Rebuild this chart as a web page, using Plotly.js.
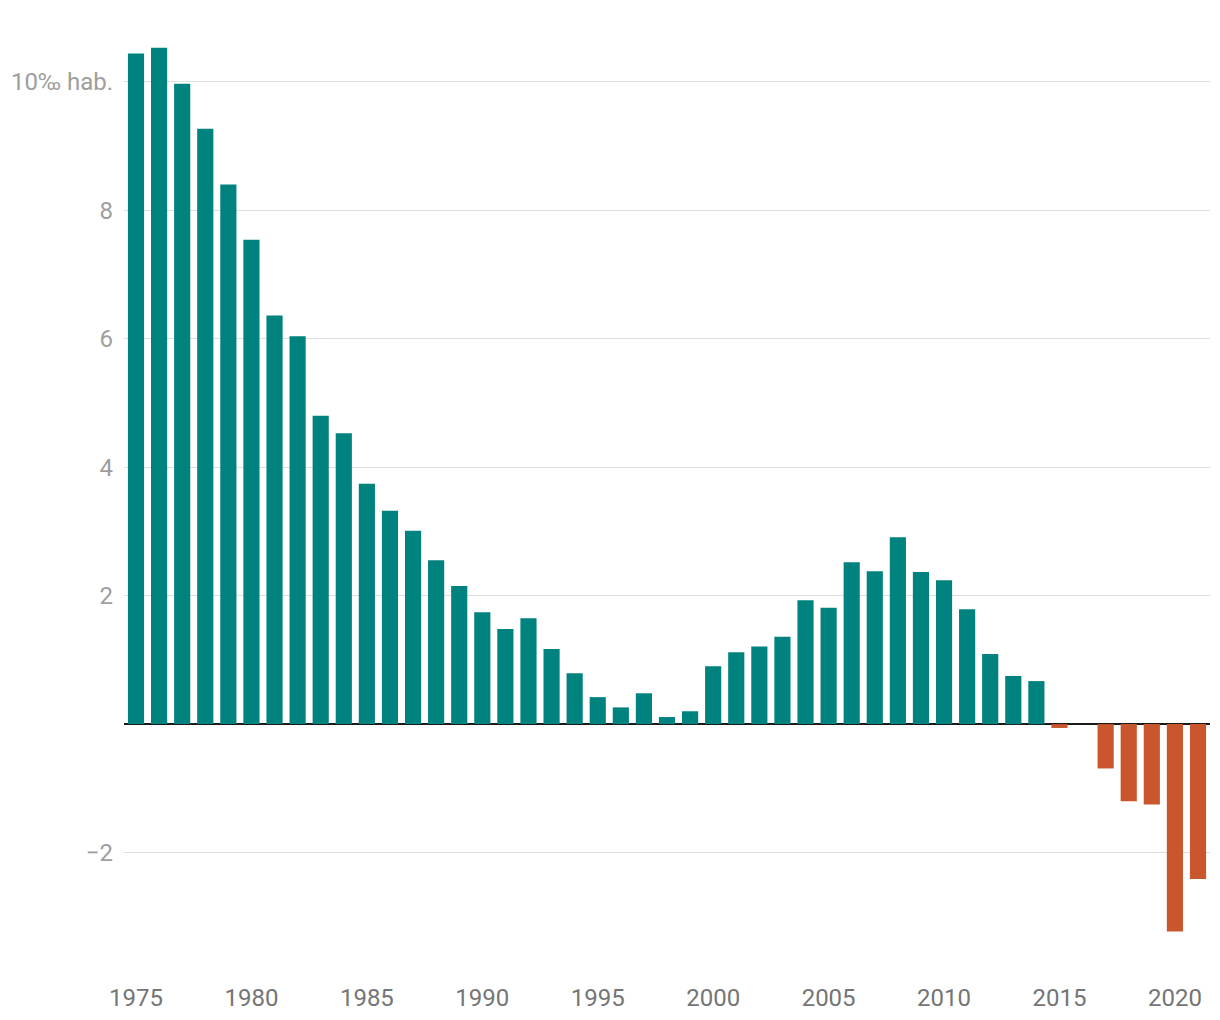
<!DOCTYPE html>
<html>
<head>
<meta charset="utf-8">
<script src="https://cdn.plot.ly/plotly-3.0.1.min.js"></script>
<style>html,body{margin:0;padding:0;background:#fff;}#chart{width:1220px;height:1020px;}</style>
</head>
<body>
<div id="chart"></div>
<script>
const years = [1975,1976,1977,1978,1979,1980,1981,1982,1983,1984,1985,1986,1987,1988,1989,1990,1991,1992,1993,1994,1995,1996,1997,1998,1999,2000,2001,2002,2003,2004,2005,2006,2007,2008,2009,2010,2011,2012,2013,2014,2015,2016,2017,2018,2019,2020,2021];
const values = [10.44,10.53,9.97,9.27,8.40,7.54,6.36,6.04,4.80,4.53,3.74,3.32,3.01,2.55,2.15,1.74,1.48,1.65,1.17,0.79,0.42,0.26,0.48,0.11,0.20,0.90,1.12,1.21,1.36,1.93,1.81,2.52,2.38,2.91,2.37,2.24,1.79,1.09,0.75,0.67,-0.06,0,-0.69,-1.20,-1.25,-3.23,-2.41];
const yTickVals = [-2,2,4,6,8,10];
const yTickText = ["\u22122","2","4","6","8","10\u2030 hab."];
const xTickVals = [1975,1980,1985,1990,1995,2000,2005,2010,2015,2020];

const posColor = "#00827F";
const negColor = "#C9562C";
const colors = values.map(v => v < 0 ? negColor : posColor);

const trace = {
  type: "bar",
  x: years,
  y: values,
  marker: {color: colors},
  hoverinfo: "x+y"
};

const layout = {
  width: 1220,
  height: 1020,
  margin: {l: 124, r: 10, t: 40, b: 55},
  paper_bgcolor: "#fff",
  plot_bgcolor: "#fff",
  bargap: 0.3,
  showlegend: false,
  font: {family: "Roboto, sans-serif"},
  xaxis: {
    range: [1974.48, 2021.52],
    tickvals: xTickVals,
    ticktext: xTickVals.map(String),
    showgrid: false,
    zeroline: false,
    showline: false,
    ticks: "",
    ticklabelstandoff: 16,
    tickfont: {size: 24, color: "#757575"},
    fixedrange: true
  },
  yaxis: {
    range: [-3.75, 10.65],
    tickvals: yTickVals,
    ticktext: yTickText,
    showgrid: true,
    gridcolor: "#dedede",
    gridwidth: 1,
    zeroline: true,
    zerolinecolor: "#1a1a1a",
    zerolinewidth: 2,
    showline: false,
    ticks: "",
    ticklabelstandoff: 10,
    tickfont: {size: 24, color: "#9e9e9e"},
    fixedrange: true
  }
};

Plotly.newPlot("chart", [trace], layout, {displayModeBar: false, staticPlot: true});
</script>
</body>
</html>
